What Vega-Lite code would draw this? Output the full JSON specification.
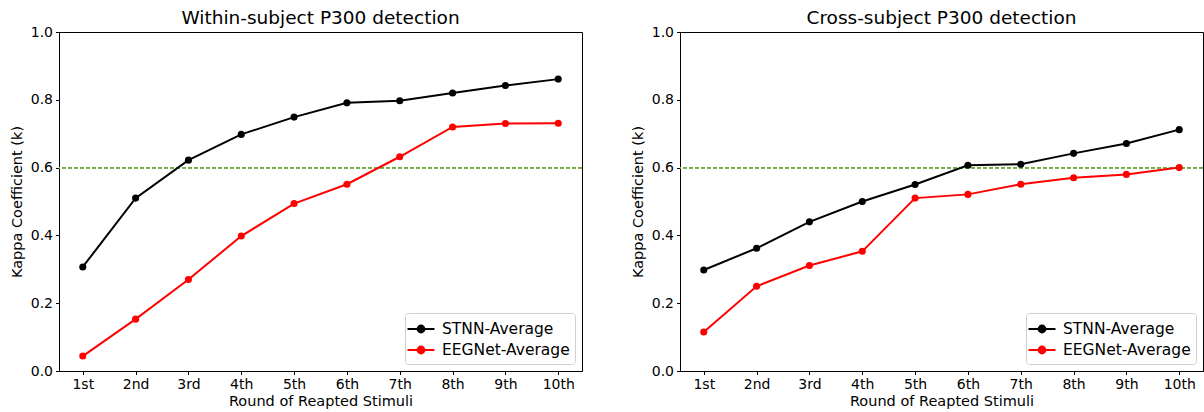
{
  "$schema": "https://vega.github.io/schema/vega-lite/v6.json",
  "padding": {"left": 8, "top": 8, "right": 0, "bottom": 0},
  "spacing": 46,
  "background": "white",
  "config": {
    "font": "DejaVu Sans",
    "view": {"stroke": "black", "strokeWidth": 1},
    "axis": {
      "grid": false,
      "domainColor": "black",
      "tickColor": "black",
      "tickSize": 3.5,
      "labelPadding": 3,
      "labelFontSize": 14,
      "labelColor": "black",
      "titleFontSize": 14.5,
      "titleFontWeight": "normal",
      "titleColor": "black"
    },
    "title": {"fontSize": 18.5, "fontWeight": "normal", "color": "black", "offset": -2},
    "legend": {
      "orient": "bottom-right",
      "offset": 7,
      "fillColor": "white",
      "strokeColor": "#d0d0d0",
      "cornerRadius": 3,
      "padding": 5,
      "labelFontSize": 15.5,
      "labelColor": "black",
      "labelOffset": 10,
      "rowPadding": 1
    }
  },
  "datasets": {
    "within": [
      {"round": "1st", "series": "STNN-Average", "k": 0.307},
      {"round": "2nd", "series": "STNN-Average", "k": 0.51},
      {"round": "3rd", "series": "STNN-Average", "k": 0.622},
      {"round": "4th", "series": "STNN-Average", "k": 0.698},
      {"round": "5th", "series": "STNN-Average", "k": 0.749},
      {"round": "6th", "series": "STNN-Average", "k": 0.791},
      {"round": "7th", "series": "STNN-Average", "k": 0.797},
      {"round": "8th", "series": "STNN-Average", "k": 0.82},
      {"round": "9th", "series": "STNN-Average", "k": 0.842},
      {"round": "10th", "series": "STNN-Average", "k": 0.861},
      {"round": "1st", "series": "EEGNet-Average", "k": 0.044},
      {"round": "2nd", "series": "EEGNet-Average", "k": 0.153},
      {"round": "3rd", "series": "EEGNet-Average", "k": 0.27},
      {"round": "4th", "series": "EEGNet-Average", "k": 0.398},
      {"round": "5th", "series": "EEGNet-Average", "k": 0.494},
      {"round": "6th", "series": "EEGNet-Average", "k": 0.551},
      {"round": "7th", "series": "EEGNet-Average", "k": 0.632},
      {"round": "8th", "series": "EEGNet-Average", "k": 0.72},
      {"round": "9th", "series": "EEGNet-Average", "k": 0.73},
      {"round": "10th", "series": "EEGNet-Average", "k": 0.731}
    ],
    "cross": [
      {"round": "1st", "series": "STNN-Average", "k": 0.298},
      {"round": "2nd", "series": "STNN-Average", "k": 0.362},
      {"round": "3rd", "series": "STNN-Average", "k": 0.44},
      {"round": "4th", "series": "STNN-Average", "k": 0.5},
      {"round": "5th", "series": "STNN-Average", "k": 0.55},
      {"round": "6th", "series": "STNN-Average", "k": 0.607},
      {"round": "7th", "series": "STNN-Average", "k": 0.61},
      {"round": "8th", "series": "STNN-Average", "k": 0.642},
      {"round": "9th", "series": "STNN-Average", "k": 0.671},
      {"round": "10th", "series": "STNN-Average", "k": 0.712},
      {"round": "1st", "series": "EEGNet-Average", "k": 0.115},
      {"round": "2nd", "series": "EEGNet-Average", "k": 0.25},
      {"round": "3rd", "series": "EEGNet-Average", "k": 0.311},
      {"round": "4th", "series": "EEGNet-Average", "k": 0.353},
      {"round": "5th", "series": "EEGNet-Average", "k": 0.51},
      {"round": "6th", "series": "EEGNet-Average", "k": 0.521},
      {"round": "7th", "series": "EEGNet-Average", "k": 0.551},
      {"round": "8th", "series": "EEGNet-Average", "k": 0.57},
      {"round": "9th", "series": "EEGNet-Average", "k": 0.58},
      {"round": "10th", "series": "EEGNet-Average", "k": 0.6}
    ]
  },
  "resolve": {"legend": {"color": "independent"}},
  "hconcat": [
    {
      "width": 523,
      "height": 339,
      "title": "Within-subject P300 detection",
      "data": {"name": "within"},
      "layer": [
        {
          "mark": {"type": "rule", "color": "#70ad47", "strokeDash": [4, 2], "strokeWidth": 1},
          "encoding": {"y": {"datum": 0.6, "type": "quantitative", "scale": {"domain": [0, 1]}}}
        },
        {
          "mark": {"type": "line", "strokeWidth": 2, "point": {"filled": true, "size": 50}},
          "encoding": {
            "x": {
              "field": "round", "type": "ordinal",
              "sort": ["1st","2nd","3rd","4th","5th","6th","7th","8th","9th","10th"],
              "scale": {"type": "point", "padding": 0.45},
              "axis": {"labelAngle": 0, "title": "Round of Reapted Stimuli", "titlePadding": 3}
            },
            "y": {
              "field": "k", "type": "quantitative",
              "scale": {"domain": [0, 1], "nice": false, "zero": true},
              "axis": {"values": [0, 0.2, 0.4, 0.6, 0.8, 1.0], "format": ".1f", "title": "Kappa Coefficient (k)", "titlePadding": 6}
            },
            "color": {
              "field": "series", "type": "nominal",
              "sort": ["STNN-Average", "EEGNet-Average"],
              "scale": {"domain": ["STNN-Average", "EEGNet-Average"], "range": ["black", "red"]},
              "legend": {
                "title": null,
                "symbolType": "M -1.35 0 L 1.35 0 M -0.34 0 A 0.34 0.34 0 1 1 0.34 0 A 0.34 0.34 0 1 1 -0.34 0 Z",
                "symbolSize": 400,
                "symbolStrokeWidth": 2,
                "symbolFillColor": null
              }
            }
          }
        }
      ]
    },
    {
      "width": 523,
      "height": 339,
      "title": "Cross-subject P300 detection",
      "data": {"name": "cross"},
      "layer": [
        {
          "mark": {"type": "rule", "color": "#70ad47", "strokeDash": [4, 2], "strokeWidth": 1},
          "encoding": {"y": {"datum": 0.6, "type": "quantitative", "scale": {"domain": [0, 1]}}}
        },
        {
          "mark": {"type": "line", "strokeWidth": 2, "point": {"filled": true, "size": 50}},
          "encoding": {
            "x": {
              "field": "round", "type": "ordinal",
              "sort": ["1st","2nd","3rd","4th","5th","6th","7th","8th","9th","10th"],
              "scale": {"type": "point", "padding": 0.45},
              "axis": {"labelAngle": 0, "title": "Round of Reapted Stimuli", "titlePadding": 3}
            },
            "y": {
              "field": "k", "type": "quantitative",
              "scale": {"domain": [0, 1], "nice": false, "zero": true},
              "axis": {"values": [0, 0.2, 0.4, 0.6, 0.8, 1.0], "format": ".1f", "title": "Kappa Coefficient (k)", "titlePadding": 6}
            },
            "color": {
              "field": "series", "type": "nominal",
              "sort": ["STNN-Average", "EEGNet-Average"],
              "scale": {"domain": ["STNN-Average", "EEGNet-Average"], "range": ["black", "red"]},
              "legend": {
                "title": null,
                "symbolType": "M -1.35 0 L 1.35 0 M -0.34 0 A 0.34 0.34 0 1 1 0.34 0 A 0.34 0.34 0 1 1 -0.34 0 Z",
                "symbolSize": 400,
                "symbolStrokeWidth": 2,
                "symbolFillColor": null
              }
            }
          }
        }
      ]
    }
  ]
}
